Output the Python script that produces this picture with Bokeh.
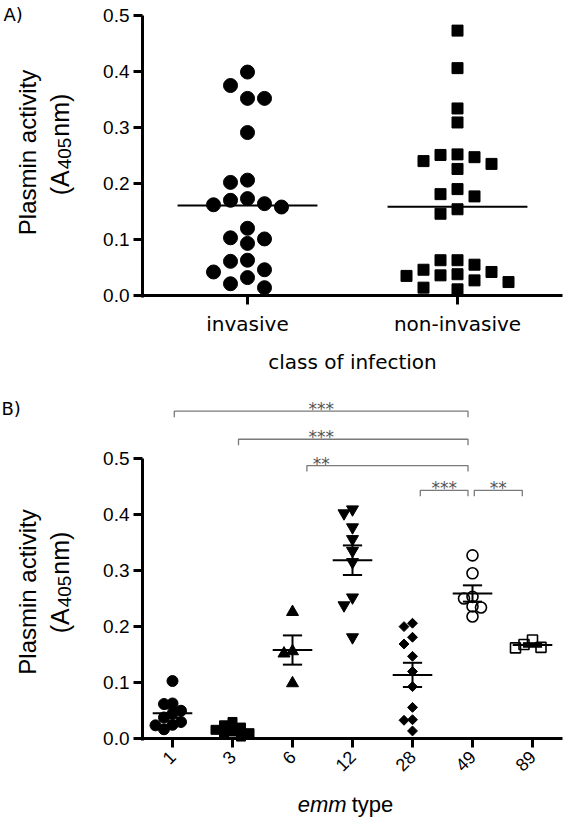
import math
import numpy as np
from bokeh.plotting import figure
from bokeh.layouts import column
from bokeh.models import FixedTicker, Label, PrintfTickFormatter, LinearAxis
from bokeh.core.properties import value
from bokeh.embed import file_html
from bokeh.resources import INLINE

# ---------------- data ----------------
classes = ["invasive", "non-invasive"]
invasive = [0.399, 0.375, 0.352, 0.352, 0.291, 0.206, 0.202, 0.173, 0.170, 0.164,
            0.162, 0.158, 0.120, 0.103, 0.101, 0.093, 0.063, 0.061, 0.046, 0.042,
            0.032, 0.021, 0.014]
non_invasive = [0.473, 0.406, 0.334, 0.309, 0.252, 0.251, 0.247, 0.240, 0.235, 0.226,
                0.190, 0.181, 0.177, 0.154, 0.146, 0.063, 0.063, 0.055, 0.046, 0.042,
                0.038, 0.036, 0.035, 0.027, 0.024, 0.014, 0.011]
y_ticks = [0.0, 0.1, 0.2, 0.3, 0.4, 0.5]

emm_types = ["1", "3", "6", "12", "28", "49", "89"]
emm_1 = [0.103, 0.063, 0.062, 0.050, 0.045, 0.038, 0.030, 0.025, 0.024, 0.017]
emm_3 = [0.030, 0.024, 0.020, 0.016, 0.013, 0.010, 0.007, 0.004]
emm_6 = [0.226, 0.156, 0.152, 0.099]
emm_12 = [0.409, 0.402, 0.377, 0.356, 0.335, 0.315, 0.252, 0.238, 0.181]
emm_28 = [0.206, 0.200, 0.181, 0.169, 0.147, 0.120, 0.093, 0.056, 0.034, 0.033, 0.014]
emm_49 = [0.327, 0.295, 0.253, 0.250, 0.236, 0.234, 0.218]
emm_89 = [0.176, 0.168, 0.163, 0.162]
sig_pairs = [("1", "49"), ("3", "49"), ("6", "49"), ("28", "49"), ("49", "89")]
sig_marks = ["***", "***", "**", "***", "**"]
sig_levels = [0.584, 0.534, 0.487, 0.443, 0.443]

# ---------------- layout constants (canvas pixels) ----------------
W = 566
HA, HB = 378, 443
AX_X = 142            # x pixel of the y axes
A_ZERO, B_ZERO = 295, 360.3   # y pixel of value 0 inside each canvas
A_XPX, A_YPX = 210.0, 560.0
B_XPX, B_YPX = 60.0, 561.0
AXIS_FONT = "Liberation Sans"


def swarm(vals, thresh, step):
    order = [0]
    for k in range(1, 12):
        order += [-k, k]
    placed = []
    offs = [0.0] * len(vals)
    for i in sorted(range(len(vals)), key=lambda i: -vals[i]):
        v = vals[i]
        for s in order:
            if all(not (ps == s and abs(pv - v) < thresh) for ps, pv in placed):
                placed.append((s, v))
                offs[i] = s * step
                break
    return offs


def make_fig(h, zero, xpx, ypx, x_end, xticks, xlabels):
    p = figure(width=W, height=h,
               x_range=(-AX_X / xpx, (W - AX_X) / xpx),
               y_range=((zero - h) / ypx, zero / ypx),
               x_axis_type=None, y_axis_type=None,
               output_backend="svg", toolbar_location=None,
               min_border=0, min_border_left=0, min_border_right=0,
               min_border_top=0, min_border_bottom=0)
    p.outline_line_color = None
    p.grid.visible = False
    yax = LinearAxis(fixed_location=0, bounds=(-1.5 / ypx, 0.5),
                     ticker=FixedTicker(ticks=y_ticks),
                     formatter=PrintfTickFormatter(format="%.1f"))
    xax = LinearAxis(fixed_location=0, bounds=(0, x_end),
                     ticker=FixedTicker(ticks=xticks))
    xax.major_label_overrides = {t: l for t, l in zip(xticks, xlabels)}
    for ax in (xax, yax):
        ax.axis_line_width = 3
        ax.axis_line_color = "black"
        ax.major_tick_line_width = 3
        ax.major_tick_line_color = "black"
        ax.major_tick_out = 9
        ax.major_tick_in = 0
        ax.minor_tick_line_color = None
        ax.major_label_text_color = "black"
    yax.major_label_text_font = AXIS_FONT
    yax.major_label_text_font_size = "19px"
    yax.major_label_standoff = 4
    p.add_layout(yax, "left")
    p.add_layout(xax, "below")
    return p, xax


def add_label(p, fx, fy, zero, xpx, ypx, text, font, size, angle=0.0,
              align="center", baseline="middle", style="normal", color="black"):
    # fx, fy: canvas pixel position inside this figure
    p.add_layout(Label(x=(fx - AX_X) / xpx, y=(zero - fy) / ypx, text=text,
                       text_font=font, text_font_size=size, angle=angle,
                       text_align=align, text_baseline=baseline,
                       text_font_style=style, text_color=color))


def char_w(s, size):
    widths = {"(": 333, ")": 333, "A": 667, "n": 556, "m": 833, "e": 556,
              "t": 278, "y": 500, "p": 556, " ": 278}
    return sum(widths.get(c, 556) for c in s) * size / 1000.0


def y_title(p, zero, xpx, ypx, cx1, cy1, cx2, cy2):
    add_label(p, cx1, cy1, zero, xpx, ypx, "Plasmin activity", AXIS_FONT,
              "24px", angle=math.pi / 2)
    parts = [("(A", 25, 0), ("405", 19, 5), ("nm)", 25, 0)]
    gap = 1
    total = sum(char_w(t, s) for t, s, _ in parts) + gap * (len(parts) - 1)
    y0 = cy2 + total / 2.0
    for t, s, dx in parts:
        add_label(p, cx2 + dx, y0, zero, xpx, ypx, t, AXIS_FONT, f"{s}px",
                  angle=math.pi / 2, align="left", baseline="middle")
        y0 -= char_w(t, s) + gap


# ---------------- panel A ----------------
ticksA = [i + 0.5 for i in range(len(classes))]
pA, xaxA = make_fig(HA, A_ZERO, A_XPX, A_YPX, len(classes), ticksA, classes)
xaxA.major_label_text_font = "DejaVu Sans"
xaxA.major_label_text_font_size = "20px"
xaxA.major_label_standoff = 7

groupsA = [(invasive, "circle", 14), (non_invasive, "square", 11)]
for i, (vals, mk, sz) in enumerate(groupsA):
    offs = swarm(vals, 0.025, 17.0 / A_XPX)
    xs = [i + 0.5 + o for o in offs]
    pA.scatter(xs, vals, marker=mk, size=sz, color="black")
    m = float(np.mean(vals))
    pA.segment(x0=[i + 0.5 - 0.333], x1=[i + 0.5 + 0.333], y0=[m], y1=[m],
               line_width=2, line_color="black")

y_title(pA, A_ZERO, A_XPX, A_YPX, 27, 152, 59, 144)
add_label(pA, 3, 3, A_ZERO, A_XPX, A_YPX, "A)", "DejaVu Sans", "18px",
          align="left", baseline="top")
add_label(pA, AX_X + len(classes) * A_XPX / 2.0, 361, A_ZERO, A_XPX, A_YPX,
          "class of infection", "DejaVu Sans", "20px", baseline="alphabetic")

# ---------------- panel B ----------------
ticksB = [i + 0.5 for i in range(len(emm_types))]
pB, xaxB = make_fig(HB, B_ZERO, B_XPX, B_YPX, len(emm_types), ticksB, emm_types)
xaxB.major_label_orientation = math.pi / 4
xaxB.major_label_text_font = AXIS_FONT
xaxB.major_label_text_font_size = "18px"
xaxB.major_label_standoff = 6

groupsB = [
    (emm_1, dict(marker="circle", size=11, color="black")),
    (emm_3, dict(marker="square", size=9, color="black")),
    (emm_6, dict(marker="triangle", size=12, color="black")),
    (emm_12, dict(marker="inverted_triangle", size=12, color="black")),
    (emm_28, dict(marker="square", size=7, angle=math.pi / 4, color="black")),
    (emm_49, dict(marker="circle", size=11, fill_color=None, line_color="black", line_width=1.6)),
    (emm_89, dict(marker="square", size=10, fill_color=None, line_color="black", line_width=1.6)),
]
for i, (vals, kw) in enumerate(groupsB):
    offs = swarm(vals, 0.016, 8.5 / B_XPX)
    xs = [i + 0.5 + o for o in offs]
    pB.scatter(xs, vals, **kw)
for i, (vals, _) in enumerate(groupsB):
    c = i + 0.5
    m = float(np.mean(vals))
    se = float(np.std(vals, ddof=1) / math.sqrt(len(vals)))
    pB.segment(x0=[c - 0.33, c, c - 0.16, c - 0.16], x1=[c + 0.33, c, c + 0.16, c + 0.16],
               y0=[m, m - se, m - se, m + se], y1=[m, m + se, m - se, m + se],
               line_width=2, line_color="black")

# significance brackets
idx = {t: i for i, t in enumerate(emm_types)}
end_offsets = [(0.03, -0.075), (0.1, -0.075), (0.24, -0.075), (0.13, -0.075), (0.03, -0.17)]
drop = 6.0 / B_YPX
bx, by = [], []
for (g1, g2), lvl, (o1, o2) in zip(sig_pairs, sig_levels, end_offsets):
    xl = idx[g1] + 0.5 + o1
    xr = idx[g2] + 0.5 + o2
    bx.append([xl, xl, xr, xr])
    by.append([lvl - drop, lvl, lvl, lvl - drop])
star_x = []
first_mid = None
for k, ((g1, g2), (o1, o2)) in enumerate(zip(sig_pairs, end_offsets)):
    mid = (idx[g1] + idx[g2] + 1 + o1 + o2) / 2.0
    if first_mid is None:
        first_mid = mid
    star_x.append(first_mid if k < 3 else mid)
pB.multi_line(bx, by, line_color="#7a7a7a", line_width=1.3)
pB.text(x=star_x, y=[l + 2.0 / B_YPX for l in sig_levels], text=sig_marks,
        text_font=value("DejaVu Sans"), text_font_size="17px", text_color="#555555",
        text_align="center", text_baseline="alphabetic")

y_title(pB, B_ZERO, B_XPX, B_YPX, 27, 213.5, 59, 204)
add_label(pB, 1, 19, B_ZERO, B_XPX, B_YPX, "B)", "DejaVu Sans", "18px",
          align="left", baseline="top")
# x-axis title: italic "emm" + regular "type"
t_size = 22
w_emm = char_w("emm", t_size) - 1
w_type = char_w("type", t_size)
gap = char_w(" ", t_size)
start = 345 - (w_emm + gap + w_type) / 2.0
add_label(pB, start, 426, B_ZERO, B_XPX, B_YPX, "emm", AXIS_FONT, f"{t_size}px",
          align="left", baseline="alphabetic", style="italic")
add_label(pB, start + w_emm + gap, 426, B_ZERO, B_XPX, B_YPX, "type", AXIS_FONT,
          f"{t_size}px", align="left", baseline="alphabetic")

layout = column(pA, pB)
open("out.html", "w").write(file_html(layout, INLINE))
